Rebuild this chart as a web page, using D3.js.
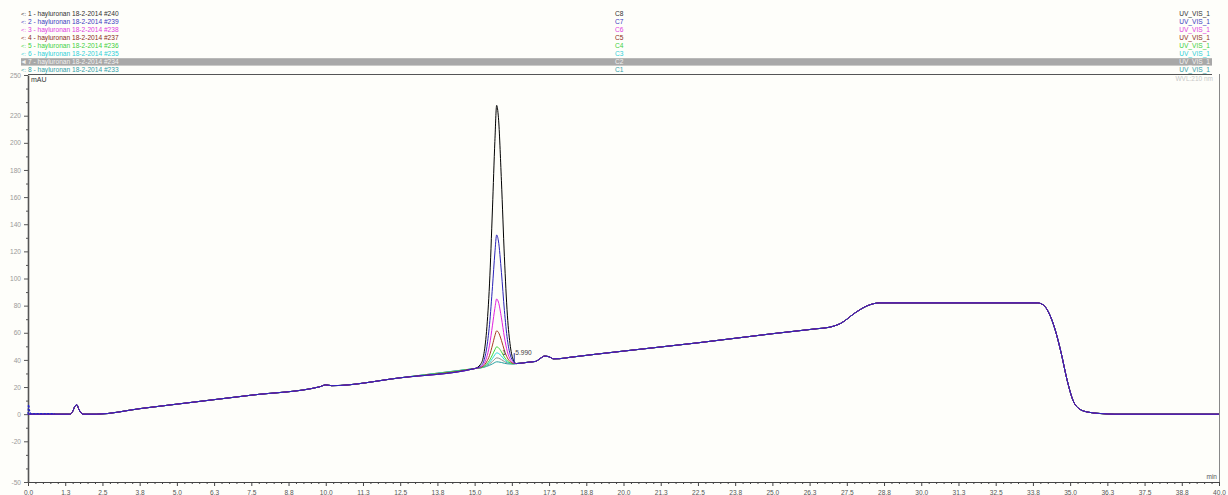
<!DOCTYPE html>
<html><head><meta charset="utf-8">
<script src="https://cdn.jsdelivr.net/npm/d3@7"></script>
<style>
html,body{margin:0;padding:0;background:#fefefa;}
svg{display:block;font-family:"Liberation Sans",Arial,sans-serif;}
</style></head><body>
<svg id="chart" width="1228" height="495"></svg>
<script>
// ---- data ----
const seriesLabels = ["1 - hayluronan 18-2-2014 #240","2 - hayluronan 18-2-2014 #239","3 - hayluronan 18-2-2014 #238","4 - hayluronan 18-2-2014 #237","5 - hayluronan 18-2-2014 #236","6 - hayluronan 18-2-2014 #235","7 - hayluronan 18-2-2014 #234","8 - hayluronan 18-2-2014 #233"];
const seriesCodes = ["C8","C7","C6","C5","C4","C3","C2","C1"];
const seriesChannels = ["UV_VIS_1","UV_VIS_1","UV_VIS_1","UV_VIS_1","UV_VIS_1","UV_VIS_1","UV_VIS_1","UV_VIS_1"];
const seriesColors = ["#000000","#2a22b8","#e020e0","#a83a22","#3cd83c","#22d8e0","#8c8c8c","#22a0a0"];
const textColors = ["#303030","#3a3ac0","#e040e0","#8a2a20","#40d040","#30d0d8","#f0f0f0","#30a0a8"];

// shared baseline (all traces overlay outside the main peak), time [min] / mAU
const baseTimes  = [0.0,1.4,1.5,1.58,1.64,1.7,1.78,1.85,2.3,3.8,5.0,7.5,9.8,10.0,10.2,12.5,15.0,16.4,16.8,17.05,17.2,17.35,17.5,17.65,17.85,18.2,20.0,22.5,25.0,26.5,26.9,27.3,27.8,28.2,28.6,33.9,34.1,34.3,34.5,34.7,34.9,35.1,35.3,35.6,36.0,36.5,40.0];
const baseValues = [0,0,2,6,7,4,1,0,0,4.2,7.4,14.0,20.2,21.6,21.0,26.8,33.6,37.3,38.3,38.9,41.0,42.8,42.3,40.8,40.9,41.9,46.5,52.6,59.3,63.0,64.0,67.0,75.0,80.0,82.0,82.0,80.5,74.0,62.0,45.0,25.0,10.0,4.0,1.5,0.5,0,0];

// early artefact on trace 2 (blue)
const blueStartTimes = [0.0,0.02,0.05,0.1,0.9];
const blueStartValues = [0,7,3,0.5,0.5];

// main peak region, per series
const peakTimes = [15.0,15.2,15.3,15.4,15.5,15.6,15.68,15.74,15.8,15.9,16.0,16.1,16.2,16.3,16.4];
const peak1 = [33.6,36.8,43.0,61.0,96.0,152.0,201.0,227.6,218.5,172.0,116.0,73.0,50.0,40.0,37.3];
const peak2 = [33.6,35.5,38.6,48.0,66.0,94.0,118.8,132.1,127.6,104.5,76.5,55.0,43.5,38.8,37.3];
const peak3 = [33.6,34.8,36.5,41.5,50.8,65.6,78.0,84.9,82.6,71.0,56.8,46.0,40.2,37.9,37.3];
const peak4 = [33.6,34.5,35.6,38.4,43.2,51.0,57.8,61.4,60.3,54.4,47.0,41.5,38.6,37.5,37.3];
const peak5 = [33.6,34.3,35.0,36.8,39.6,43.8,47.5,49.6,49.0,46.0,42.1,39.2,37.8,37.2,37.3];
const peak6 = [33.6,34.2,34.9,36.2,38.2,41.1,43.8,45.2,44.8,42.9,40.2,38.3,37.5,37.1,37.3];
const peak7 = [33.6,34.1,34.7,35.6,37.0,38.9,40.6,41.5,41.3,40.2,38.8,37.7,37.2,37.1,37.3];
const peak8 = [33.6,34.1,34.5,35.2,36.0,37.1,38.1,38.6,38.5,38.1,37.5,37.1,37.0,37.0,37.3];
const peaks = [peak1,peak2,peak3,peak4,peak5,peak6,peak7,peak8];

// axes
const xTickValues = [0,1.25,2.5,3.75,5,6.25,7.5,8.75,10,11.25,12.5,13.75,15,16.25,17.5,18.75,20,21.25,22.5,23.75,25,26.25,27.5,28.75,30,31.25,32.5,33.75,35,36.25,37.5,38.75,40];
const xTickLabels = ["0.0","1.3","2.5","3.8","5.0","6.3","7.5","8.8","10.0","11.3","12.5","13.8","15.0","16.3","17.5","18.8","20.0","21.3","22.5","23.8","25.0","26.3","27.5","28.8","30.0","31.3","32.5","33.8","35.0","36.3","37.5","38.8","40.0"];
const yTickValues = [250,220,200,180,160,140,120,100,80,60,40,20,0,-20,-50];
const yTickLabels = ["250","220","200","180","160","140","120","100","80","60","40","20","0","-20","-50"];
const yMinorValues = [240,230,210,190,170,150,130,110,90,70,50,30,10,-10,-30,-40];

// peak annotation
const peakLabelNo = "1";
const peakLabelText = "5.990";
const peakLabelTime = 15.93, peakLabelValue = 43.5, peakEndTime = 16.33;

// ---- drawing ----
const svg = d3.select("#chart");
const L = 28, R = 1219, T = 75, B = 482;
const x = d3.scaleLinear().domain([0,40]).range([L,R]);
const y = d3.scaleLinear().domain([-50,250]).range([B,T]);

// legend
const leg = svg.append("g").style("font-size","6.6px");
seriesLabels.forEach((lab,i)=>{
  const cy = 14 + i*8;
  if(i===6){
    leg.append("rect").attr("x",21).attr("y",cy-3.8).attr("width",1191).attr("height",7.4).attr("fill","#a8a8a8");
  }
  leg.append("text").attr("x",i===6?20:21).attr("y",cy+2.3).attr("fill",textColors[i])
     .text(i===6?"\u25C4":"<:").style("font-size",i===6?"7px":"6px");
  leg.append("text").attr("x",28).attr("y",cy+2.3).attr("fill",textColors[i]).text(lab);
  leg.append("text").attr("x",615).attr("y",cy+2.3).attr("fill",textColors[i]).text(seriesCodes[i]);
  leg.append("text").attr("x",1210).attr("y",cy+2.3).attr("text-anchor","end").attr("fill",textColors[i]).text(seriesChannels[i]);
});

// frame
svg.append("line").attr("x1",L).attr("x2",1212).attr("y1",74.5).attr("y2",74.5).attr("stroke","#555").attr("stroke-width",1);
svg.append("line").attr("x1",1219.5).attr("x2",1219.5).attr("y1",74).attr("y2",B).attr("stroke","#888").attr("stroke-width",1);
svg.append("text").attr("x",1213).attr("y",81).attr("text-anchor","end").attr("fill","#c8c8c8").style("font-size","6.5px").text("WVL:210 nm");
svg.append("text").attr("x",31).attr("y",82).attr("fill","#333").style("font-size","7px").text("mAU");
svg.append("text").attr("x",1217).attr("y",479).attr("text-anchor","end").attr("fill","#555").style("font-size","6.5px").text("min");

// axes
const xAxis = d3.axisBottom(x).tickValues(xTickValues).tickFormat((d,i)=>xTickLabels[i]).tickSize(4).tickSizeOuter(0);
const gx = svg.append("g").attr("transform",`translate(0,${B})`).call(xAxis);
const xMinor = d3.range(0,40.001,0.25).filter(v=>Math.abs(v/1.25-Math.round(v/1.25))>1e-6);
svg.append("g").attr("transform",`translate(0,${B})`).call(d3.axisBottom(x).tickValues(xMinor).tickFormat("").tickSize(2).tickSizeOuter(0))
  .call(g=>g.select(".domain").remove()).selectAll("line").attr("stroke","#444");
gx.select(".domain").attr("stroke","#444");
gx.selectAll(".tick line").attr("stroke","#444");
gx.selectAll("text").attr("fill","#555").style("font-size","6.6px").attr("dy","0.9em");

const yAxis = d3.axisLeft(y).tickValues(yTickValues).tickFormat((d,i)=>yTickLabels[i]).tickSize(4).tickSizeOuter(0);
const gy = svg.append("g").attr("transform",`translate(${L},0)`).call(yAxis);
svg.append("g").attr("transform",`translate(${L},0)`).call(d3.axisLeft(y).tickValues(yMinorValues).tickFormat("").tickSize(2).tickSizeOuter(0))
  .call(g=>g.select(".domain").remove()).selectAll("line").attr("stroke","#555");
gy.select(".domain").attr("stroke","#555").attr("stroke-width",1.6);
gy.selectAll(".tick line").attr("stroke","#555");
gy.selectAll("text").attr("fill","#999").style("font-size","6.6px");

// traces
const line = d3.line().x(d=>x(d[0])).y(d=>y(d[1])).curve(d3.curveMonotoneX);
const basePts = baseTimes.map((t,i)=>[t,baseValues[i]]);
function seriesPts(k){
  const pre = basePts.filter(p=>p[0]<15.0);
  const mid = peakTimes.map((t,i)=>[t,peaks[k][i]]);
  const post = basePts.filter(p=>p[0]>16.4);
  return pre.concat(mid,post);
}
const order = [7,6,5,4,3,0,2,1];
const tg = svg.append("g");
order.forEach(k=>{
  tg.append("path").attr("d",line(seriesPts(k))).attr("fill","none")
    .attr("stroke",seriesColors[k]).attr("stroke-width",1);
});
tg.append("path").attr("d",line(blueStartTimes.map((t,i)=>[t,blueStartValues[i]]))).attr("fill","none")
  .attr("stroke","#2020d0").attr("stroke-width",1.2).attr("stroke-dasharray","2,1.5");

// peak annotation
svg.append("text").attr("x",x(peakLabelTime)).attr("y",y(peakLabelValue)).attr("fill","#333").style("font-size","6.6px").text(peakLabelNo);
svg.append("text").attr("x",x(peakEndTime)+1).attr("y",y(peakLabelValue)).attr("fill","#444").style("font-size","6.6px").text(peakLabelText);
svg.append("line").attr("x1",x(peakEndTime)).attr("x2",x(peakEndTime)).attr("y1",y(peakLabelValue)-2).attr("y2",y(37.5)).attr("stroke","#2030a0").attr("stroke-width",1);
</script>
</body></html>
